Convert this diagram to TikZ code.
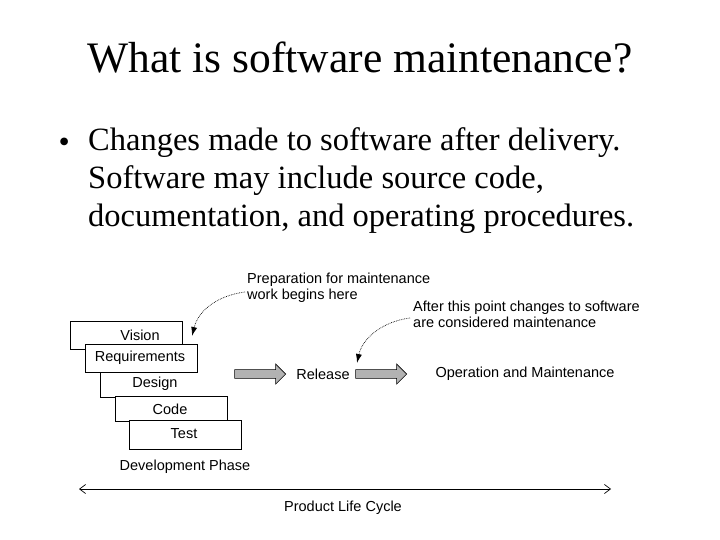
\documentclass[tikz,border=0pt]{standalone}
\usepackage{fontspec}
\setmainfont{Liberation Serif}
\newfontfamily\dsans{Liberation Sans}
\usetikzlibrary{arrows.meta,shapes.arrows}
\begin{document}
\begin{tikzpicture}[x=1pt,y=-1pt,
  lbl/.style={font=\dsans\fontsize{14.5}{16}\selectfont,inner sep=0pt},
  phase/.style={draw,fill=white,minimum width=112pt,minimum height=28pt,anchor=north west,inner sep=0pt,line width=0.8pt},
  garrow/.style={single arrow,draw,fill=gray!60,minimum width=20pt,single arrow head extend=3pt,minimum height=51pt,inner sep=2pt,line width=0.6pt},
  dotarrow/.style={densely dotted,line width=0.7pt,-{Latex[length=9pt,width=6pt]}}]
\useasboundingbox (0,0) rectangle (720,540);
\node[font=\fontsize{43.5}{48}\selectfont] (title) at (360,58) {What is software maintenance?};
\node[anchor=west,font=\fontsize{32}{34}\selectfont] (bul) at (55,145) {•};
\node[anchor=north west,align=left,inner sep=0pt,font=\fontsize{32.5}{38}\selectfont] (txt) at (88,127) {Changes made to software after delivery.\\Software may include source code,\\documentation, and operating procedures.};
\node[lbl,anchor=north west,align=left] (prep) at (247,273) {Preparation for maintenance\\work begins here};
\node[lbl,anchor=north west,align=left] (after) at (413,301) {After this point changes to software\\are considered maintenance};
\node[phase] (vision) at (70,321) {};
\node[lbl] at (140,335) {Vision};
\node[phase] (req) at (85,344) {};
\node[lbl] at (140,358) {Requirements};
\draw[line width=0.8pt] (100,372) -- (100,397) -- (115,397);
\node[lbl] (design) at (155,384) {Design};
\node[phase,minimum height=25pt] (code) at (115,396) {};
\node[lbl] at (170,409) {Code};
\node[phase,minimum height=29pt] (test) at (129,420) {};
\node[lbl] at (184,434) {Test};
\node[lbl] (dev) at (185,467) {Development Phase};
\node[garrow] (a1) at (258,374) {};
\node[lbl] (rel) at (323,374) {Release};
\node[garrow] (a2) at (379,374) {};
\node[lbl] (op) at (525,374) {Operation and Maintenance};
\coordinate (p1) at (245,292);
\coordinate (p2) at (192,336);
\draw[dotarrow] (p1) .. controls (215,296) and (198,312) .. (p2);
\coordinate (q1) at (410,318);
\coordinate (q2) at (357,363);
\draw[dotarrow] (q1) .. controls (380,322) and (362,340) .. (q2);
\coordinate (l) at (79,489);
\coordinate (r) at (611,489);
\draw[line width=0.7pt,{Straight Barb[length=6pt,width=9pt]}-{Straight Barb[length=6pt,width=9pt]}] (l) -- (r);
\node[lbl] (plc) at (343,508) {Product Life Cycle};
\end{tikzpicture}
\end{document}
